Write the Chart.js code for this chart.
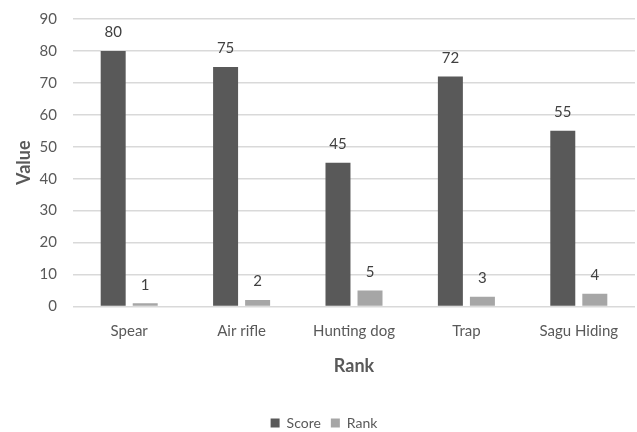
<!DOCTYPE html>
<html>
<head>
<meta charset="utf-8">
<script src="https://cdn.jsdelivr.net/npm/chart.js@4"></script>
<style>
  html, body { margin: 0; padding: 0; background: #ffffff; }
  #wrap { width: 637px; height: 432px; }
</style>
</head>
<body>
<div id="wrap"><canvas id="chart" width="637" height="432"></canvas></div>
<script>
const categories = ['Spear', 'Air rifle', 'Hunting dog', 'Trap', 'Sagu Hiding'];
const scoreValues = [80, 75, 45, 72, 55];
const rankValues = [1, 2, 5, 3, 4];
const yTicks = [0, 10, 20, 30, 40, 50, 60, 70, 80, 90];

const FONT = 'Lato, "Open Sans", "Liberation Sans", sans-serif';

// Writes each bar's value just above it
const valueLabels = {
  id: 'valueLabels',
  afterDatasetsDraw(chart) {
    const ctx = chart.ctx;
    ctx.save();
    ctx.font = '15px ' + FONT;
    ctx.fillStyle = '#404040';
    ctx.textAlign = 'center';
    ctx.textBaseline = 'bottom';
    chart.data.datasets.forEach((ds, i) => {
      const meta = chart.getDatasetMeta(i);
      meta.data.forEach((bar, j) => {
        ctx.fillText(String(ds.data[j]), bar.x, bar.y - 11);
      });
    });
    ctx.restore();
  }
};

new Chart(document.getElementById('chart'), {
  type: 'bar',
  data: {
    labels: categories,
    datasets: [
      { label: 'Score', data: scoreValues, backgroundColor: '#595959' },
      { label: 'Rank', data: rankValues, backgroundColor: '#a6a6a6' }
    ]
  },
  options: {
    responsive: false,
    animation: false,
    devicePixelRatio: 1,
    layout: { padding: { top: 19, right: 2, left: 13, bottom: -8 } },
    datasets: { bar: { categoryPercentage: 0.57, barPercentage: 0.78 } },
    scales: {
      x: {
        grid: { display: false },
        border: { display: false },
        ticks: { color: '#595959', font: { family: FONT, size: 15 }, padding: 8 },
        title: {
          display: true, text: 'Rank', color: '#595959',
          font: { family: FONT, size: 18, weight: 'bold' },
          padding: { top: 7, bottom: 29 }
        }
      },
      y: {
        min: 0, max: 90,
        afterBuildTicks(axis) { axis.ticks = yTicks.map(v => ({ value: v })); },
        afterFit(axis) {
          axis.width = 60;
          axis.paddingTop = 0;
          axis.paddingBottom = 0;
        },
        grid: { color: '#d9d9d9', lineWidth: 1.5, drawTicks: false },
        border: { display: false },
        ticks: { color: '#595959', font: { family: FONT, size: 15 }, padding: 16 },
        title: {
          display: true, text: 'Value', color: '#595959',
          font: { family: FONT, size: 18, weight: 'bold' },
          padding: { top: 0, bottom: 0 }
        }
      }
    },
    plugins: {
      legend: {
        position: 'bottom',
        labels: {
          color: '#595959', font: { family: FONT, size: 14 },
          boxWidth: 9, boxHeight: 9, padding: 10
        }
      },
      tooltip: { enabled: false }
    }
  },
  plugins: [valueLabels]
});
</script>
</body>
</html>
